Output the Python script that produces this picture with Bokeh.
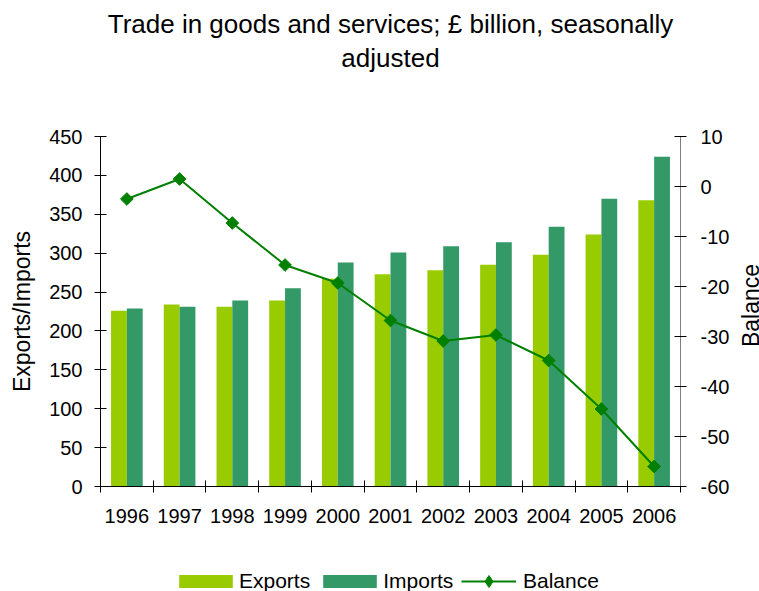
import numpy as np
from bokeh.plotting import figure
from bokeh.layouts import column, row
from bokeh.models import (ColumnDataSource, Range1d, LinearAxis, FixedTicker,
                          Legend, LegendItem, Title, Label)
from bokeh.embed import file_html
from bokeh.resources import INLINE

years = ["1996", "1997", "1998", "1999", "2000", "2001", "2002", "2003", "2004", "2005", "2006"]
exports = [226, 234, 231, 239, 267, 273, 278, 285, 298, 324, 368]
imports = [229, 231, 239, 255, 288, 301, 309, 314, 334, 370, 424]
balance = [-2.5, 1.5, -7.3, -15.7, -19.3, -26.8, -30.9, -29.7, -34.8, -44.5, -56.0]
left_ticks = [0, 50, 100, 150, 200, 250, 300, 350, 400, 450]
right_ticks = [-60, -50, -40, -30, -20, -10, 0, 10]

FONT = "Liberation Sans"
EXP_C, IMP_C, BAL_C = "#99CC00", "#339966", "#008000"
idx = np.arange(len(years))
centers = idx + 0.5

src = ColumnDataSource(dict(x=centers, xe=centers - 0.15, xi=centers + 0.15,
                            exports=exports, imports=imports, balance=balance))

p = figure(width=736, height=550, output_backend="svg", toolbar_location=None,
           x_range=Range1d(0, len(years)), y_range=Range1d(0, 450),
           min_border_left=100, min_border_right=56, min_border_bottom=64,
           min_border_top=136)
p.title = None
p.outline_line_color = None
p.xgrid.visible = False
p.ygrid.visible = False
p.background_fill_color = "white"
p.border_fill_color = "white"

p.extra_y_ranges = {"bal": Range1d(-60, 10)}

# titles (inner first)
spacer = Title(text=" ", text_font=FONT, text_font_size="10px", standoff=50)
t2 = Title(text="adjusted", align="center", text_font=FONT, text_font_size="26px",
           text_font_style="normal", text_color="black", standoff=1)
t1 = Title(text="Trade in goods and services; \u00a3 billion, seasonally", align="center",
           text_font=FONT, text_font_size="26px", text_font_style="normal",
           text_color="black", standoff=3)
p.add_layout(spacer, "above")
p.add_layout(t2, "above")
p.add_layout(t1, "above")

ve = p.vbar(x="xe", top="exports", width=0.3, source=src, fill_color=EXP_C, line_color=None)
vi = p.vbar(x="xi", top="imports", width=0.3, source=src, fill_color=IMP_C, line_color=None)
ln = p.line(x="x", y="balance", source=src, y_range_name="bal", line_color=BAL_C, line_width=2)
mk = p.scatter(x="x", y="balance", source=src, y_range_name="bal", marker="square",
               angle=np.pi / 4, size=9, fill_color=BAL_C, line_color=BAL_C)

# bottom axis
xa = p.xaxis[0]
xa.ticker = FixedTicker(ticks=list(centers), minor_ticks=list(range(len(years) + 1)))
xa.major_label_overrides = {float(c): y for c, y in zip(centers, years)}
xa.major_tick_line_color = None
xa.minor_tick_in = 6
xa.minor_tick_out = 6
xa.minor_tick_line_color = "black"
xa.axis_line_color = "black"
xa.major_label_text_font = FONT
xa.major_label_text_font_size = "20px"
xa.major_label_text_color = "black"
xa.major_label_standoff = 16

# left axis
ya = p.yaxis[0]
ya.ticker = FixedTicker(ticks=left_ticks)
ya.minor_tick_line_color = None
ya.major_tick_in = 6
ya.major_tick_out = 6
ya.axis_line_color = "black"
ya.major_tick_line_color = "black"
ya.major_label_text_font = FONT
ya.major_label_text_font_size = "20px"
ya.major_label_text_color = "black"
ya.major_label_standoff = 12
ya.axis_label = "Exports/Imports"
ya.axis_label_text_font = FONT
ya.axis_label_text_font_size = "23px"
ya.axis_label_text_font_style = "normal"
ya.axis_label_text_color = "black"
ya.axis_label_standoff = 11

# right axis (its title is drawn in the narrow strip to the right)
ra = LinearAxis(y_range_name="bal", ticker=FixedTicker(ticks=right_ticks))
ra.major_label_overrides = {float(t): str(t) for t in right_ticks}
ra.minor_tick_line_color = None
ra.major_tick_in = 6
ra.major_tick_out = 6
ra.axis_line_color = "#808080"
ra.major_tick_line_color = "black"
ra.major_label_text_font = FONT
ra.major_label_text_font_size = "20px"
ra.major_label_text_color = "black"
ra.major_label_standoff = 14
p.add_layout(ra, "right")

# narrow strip holding the right-axis title, read bottom to top
side = figure(width=23, height=550, output_backend="svg", toolbar_location=None,
              x_range=Range1d(0, 1), y_range=Range1d(0, 1),
              x_axis_location=None, y_axis_location=None,
              min_border_left=0, min_border_right=0, min_border_top=136, min_border_bottom=64)
side.title = None
side.outline_line_color = None
side.xgrid.visible = False
side.ygrid.visible = False
side.add_layout(Label(x=0.63, y=0.517, text="Balance", angle=np.pi / 2,
                      text_align="center", text_baseline="middle", text_font=FONT,
                      text_font_size="23px", text_color="black"))

# legend in its own strip below the chart
lg = figure(width=759, height=41, output_backend="svg", toolbar_location=None,
            x_range=Range1d(0, 1), y_range=Range1d(0, 1),
            x_axis_location=None, y_axis_location=None,
            min_border_left=100, min_border_right=79, min_border_top=0, min_border_bottom=0)
lg.title = None
lg.outline_line_color = None
lg.xgrid.visible = False
lg.ygrid.visible = False
nan = float("nan")
dummy = ColumnDataSource(dict(x=[nan], y=[nan], top=[nan]))
le = lg.vbar(x="x", top="top", width=0.1, source=dummy, fill_color=EXP_C, line_color=None)
li = lg.vbar(x="x", top="top", width=0.1, source=dummy, fill_color=IMP_C, line_color=None)
ll = lg.line(x="x", y="y", source=dummy, line_color=BAL_C, line_width=2)
lm = lg.scatter(x="x", y="y", source=dummy, marker="diamond", size=12,
                fill_color=BAL_C, line_color=BAL_C)
common = dict(orientation="horizontal", padding=0, margin=0, border_line_color=None,
              background_fill_alpha=0, label_text_font=FONT, label_text_font_size="21px",
              label_text_color="black")
legend1 = Legend(items=[LegendItem(label="Exports", renderers=[le]),
                        LegendItem(label="Imports", renderers=[li])],
                 location=(72, -2), glyph_width=67, glyph_height=16,
                 label_standoff=0, spacing=6, **common)
legend2 = Legend(items=[LegendItem(label="Balance", renderers=[ll, lm])],
                 location=(361, -5), glyph_width=55, glyph_height=30,
                 label_standoff=7, spacing=0, **common)
lg.add_layout(legend1, "center")
lg.add_layout(legend2, "center")

layout = column(row(p, side, spacing=0), lg, spacing=0)
open("out.html", "w").write(file_html(layout, INLINE))
